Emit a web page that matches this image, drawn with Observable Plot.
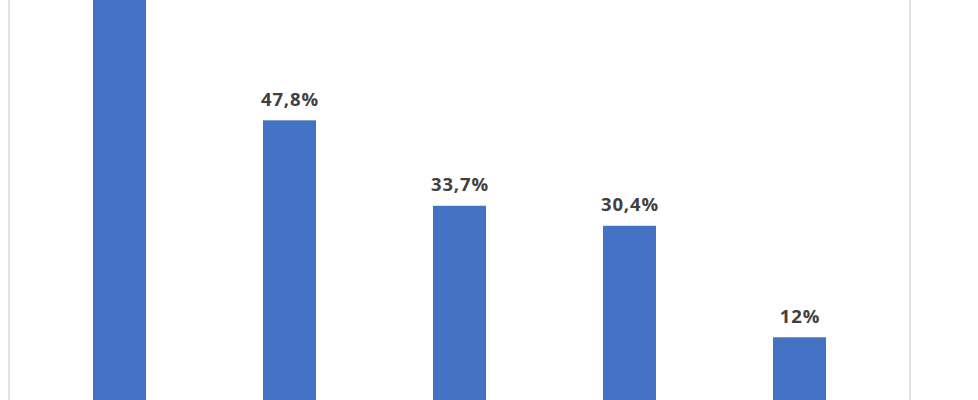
<!DOCTYPE html>
<html>
<head>
<meta charset="utf-8">
<script src="https://cdn.jsdelivr.net/npm/d3@7"></script>
<script src="https://cdn.jsdelivr.net/npm/@observablehq/plot@0.6"></script>
<style>
  html, body { margin: 0; padding: 0; background: #ffffff; }
  #wrap { position: relative; width: 978px; height: 400px; overflow: hidden; }
  #frame { position: absolute; left: 8px; top: 0; width: 899px; height: 400px;
           border-left: 2px solid #e2e2e2; border-right: 2px solid #e2e2e2; }
  #chart { position: absolute; left: 0; top: 0; }
</style>
</head>
<body>
<div id="wrap"><div id="frame"></div><div id="chart"></div></div>
<script>
const categories = ["Cat 1", "Cat 2", "Cat 3", "Cat 4", "Cat 5"];
const values = [72, 47.8, 33.7, 30.4, 12];
// the first bar's label lies above the visible crop in the reference
const labels = ["", "47,8%", "33,7%", "30,4%", "12%"];

const data = categories.map((c, i) => ({cat: c, value: values[i], label: labels[i]}));

const chart = Plot.plot({
  width: 978,
  height: 400,
  margin: 0,
  style: {background: "transparent", overflow: "hidden"},
  x: {domain: categories, range: [32.5, 887], paddingInner: 0.688, paddingOuter: 0.344, axis: null},
  y: {domain: [0, 50], range: [410, 107], axis: null},
  marks: [
    Plot.barY(data, {x: "cat", y: "value", fill: "#4472C4"}),
    Plot.text(data.filter(d => d.label !== ""), {
      x: "cat", y: "value", text: "label",
      lineAnchor: "bottom", dy: -15,
      fill: "#404040", fontSize: 18.5, fontWeight: "bold",
      fontFamily: "Open Sans"
    })
  ]
});
chart.style.letterSpacing = "0.9px";
document.getElementById("chart").appendChild(chart);
</script>
</body>
</html>
